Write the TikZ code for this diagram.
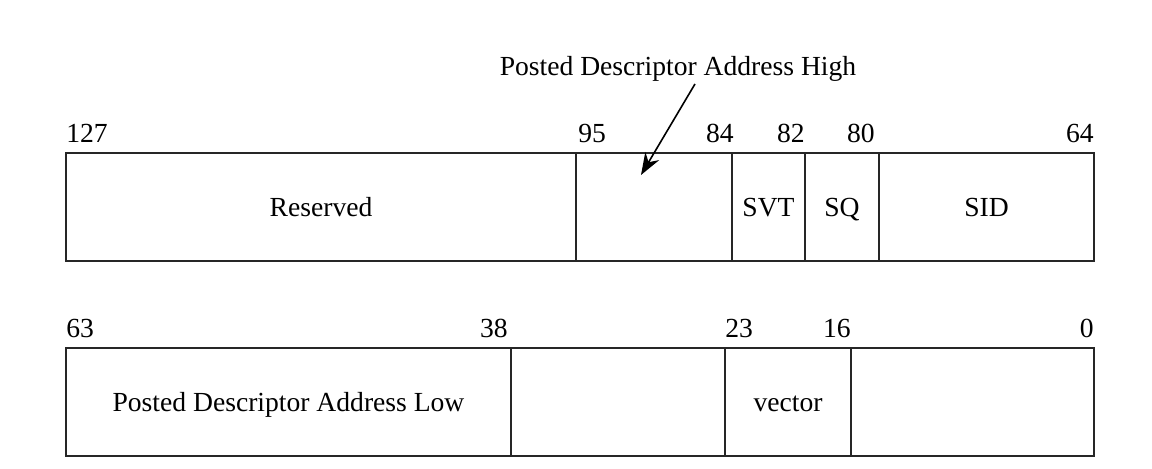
\documentclass[tikz,border=0pt]{standalone}
\usepackage{fontspec}
\setmainfont{Liberation Serif}
\usepackage{tikz}
\usetikzlibrary{positioning, arrows.meta}

\begin{document}
\begin{tikzpicture}[
    x=0.5pt, y=-0.5pt,
    font=\fontsize{13.8}{16}\selectfont,
    field/.style={draw=black!85, line width=0.9pt, minimum height=54pt, inner sep=0pt, outer sep=0pt, anchor=north west, text height=10pt, text depth=0pt},
    bit/.style={inner sep=0pt},
    arrow/.style={-{Stealth[length=11pt, width=8pt]}, line width=0.8pt}
]
    \useasboundingbox (0,0) rectangle (1152,469);

    % NODES
    \node[field, minimum width=255pt] (reserved) at (66,153) {Reserved};
    \node[field, minimum width=78pt, right=0pt of reserved] (pdah) {};
    \node[field, minimum width=36.5pt, right=0pt of pdah] (svt) {SVT};
    \node[field, minimum width=37pt, right=0pt of svt] (sq) {SQ};
    \node[field, minimum width=107.5pt, right=0pt of sq] (sid) {SID};

    \node[field, minimum width=222.5pt] (pdal) at (66,348) {Posted Descriptor Address Low};
    \node[field, minimum width=107pt, right=0pt of pdal] (rsvd_low) {};
    \node[field, minimum width=63pt, right=0pt of rsvd_low] (vector) {vector};
    \node[field, minimum width=121.5pt, right=0pt of vector] (rsvd_last) {};

    % BIT NUMBERS
    \node[bit, above right=5pt and 0pt of reserved.north west] (b127) {127};
    \node[bit, above right=5pt and 1pt of pdah.north west] (b95) {95};
    \node[bit, above left=5pt and -1pt of pdah.north east] (b84) {84};
    \node[bit, above left=5pt and 0pt of svt.north east] (b82) {82};
    \node[bit, above left=5pt and 2pt of sq.north east] (b80) {80};
    \node[bit, above left=5pt and 0pt of sid.north east] (b64) {64};

    \node[bit, above right=5pt and 0pt of pdal.north west] (b63) {63};
    \node[bit, above left=5pt and 1.5pt of pdal.north east] (b38) {38};
    \node[bit, above right=5pt and 0pt of vector.north west] (b23) {23};
    \node[bit, above left=5pt and 0pt of vector.north east] (b16) {16};
    \node[bit, above left=5pt and 0pt of rsvd_last.north east] (b0) {0};

    \node[inner sep=1pt] (title) at (678,69) {Posted Descriptor Address High};
    \coordinate (tip) at (641,175);

    % EDGES
    \draw[arrow] ([xshift=8.5pt]title.south) -- (tip);

\end{tikzpicture}
\end{document}
